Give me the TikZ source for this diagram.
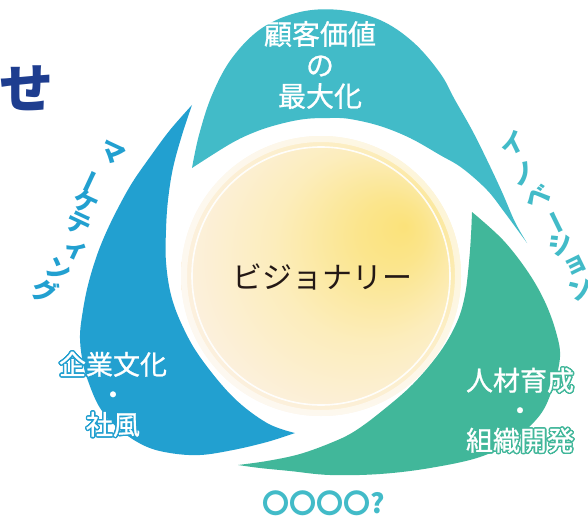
\documentclass[tikz,border=0pt]{standalone}
\usepackage{fontspec}
\newfontfamily\jp{Noto Sans CJK JP}
\newfontfamily\jpm[FakeBold=0.9]{Noto Sans CJK JP}
\usepackage{contour}
\contourlength{1.4pt}
\definecolor{cTeal}{RGB}{66,187,200}
\definecolor{cBlue}{RGB}{34,160,208}
\definecolor{cGreen}{RGB}{65,183,154}
\definecolor{cNavy}{RGB}{30,61,143}
\definecolor{cInk}{RGB}{35,24,21}
\definecolor{yHot}{RGB}{251,226,122}
\definecolor{yWarm}{RGB}{251,229,140}
\definecolor{yMid}{RGB}{252,237,188}
\definecolor{yCream}{RGB}{252,240,220}
\definecolor{yPale}{RGB}{254,247,239}
\pgfdeclareradialshading{visshade}{\pgfpoint{15bp}{9bp}}{color(0bp)=(yHot); color(6bp)=(yWarm); color(17bp)=(yMid); color(28bp)=(yCream); color(40bp)=(yPale)}
\tikzset{
  petaltxt/.style={font=\jpm\fontsize{28}{31}\selectfont, text=white, align=center, inner sep=0pt},
  sidetxt/.style={font=\jpm\fontsize{27}{30}\selectfont, text=white, align=center, inner sep=0pt},
  arcL/.style={font=\jp\bfseries\fontsize{25}{25}\selectfont, text=cBlue, inner sep=0pt, rotate=-25},
  arcR/.style={font=\jp\bfseries\fontsize{25}{25}\selectfont, text=cTeal, inner sep=0pt, rotate=26},
}
\begin{document}
\begin{tikzpicture}[x=1pt,y=-1pt]
\useasboundingbox (0,0) rectangle (588,516);
\fill[white] (0,0) rectangle (588,516);

% top teal petal
\fill[cTeal] plot[smooth,tension=0.6] coordinates {(192,168) (199,135) (212,95) (232,58) (262,28) (300,12) (340,10) (380,20) (413,42) (440,73) (455,100) (472,130) (487,160) (502,192) (515,222) (527,243)}
  -- plot[smooth,tension=0.6] coordinates {(527,243) (505,213) (487,190) (462,168) (440,155) (410,138) (380,126) (350,119) (330,118) (305,119) (280,124) (255,132) (230,144) (192,168)} -- cycle;

% left blue petal
\fill[cBlue] plot[smooth,tension=0.6] coordinates {(192,105) (170,130) (150,157) (132,183) (117,210) (105,235) (96,258) (88,285) (83,310) (80,335) (82,358) (87,378) (100,408) (120,430) (145,446) (170,453) (200,455) (233,450) (267,442) (295,433)}
  -- plot[smooth,tension=0.6] coordinates {(295,433) (267,423) (233,397) (200,357) (182,325) (171,295) (166,262) (166,230) (168,200) (173,168) (182,135) (192,105)} -- cycle;

% right green petal
\fill[cGreen] plot[smooth,tension=0.6] coordinates {(472,212) (503,240) (528,272) (545,302) (556,332) (560,357) (553,387) (540,415) (513,440) (480,457) (430,468) (380,474) (330,475) (290,471) (260,468) (238,465)}
  -- plot[smooth,tension=0.6] coordinates {(238,465) (267,461) (300,454) (333,442) (355,431) (382,411) (413,384) (440,352) (457,322) (465,295) (469,262) (471,235) (472,212)} -- cycle;

% central circle
\coordinate (c) at (321,276);
\shade[shading=visshade] (c) circle (140pt);
\draw[white, line width=6pt, opacity=0.55] (c) circle (137pt);
\draw[white, line width=1.6pt, opacity=0.9] (c) circle (129pt);
\node[font=\jp\fontsize{30}{30}\selectfont, text=cInk, inner sep=0pt] (vis) at (322,277) {ビジョナリー};

% petal texts
\node[petaltxt] (top) at (320,65) {顧客価値\\の\\最大化};
\node[sidetxt] (left) at (113,395) {\contour{cBlue}{企業文化}\\\contour{cBlue}{・}\\\contour{cBlue}{社風}};
\node[sidetxt] (right) at (520,411) {\contour{cGreen}{人材育成}\\\contour{cGreen}{・}\\\contour{cGreen}{組織開発}};

% vertical arc text, left
\node[arcL] (mk0) at (112,153) {マ};
\node[arcL, rotate=-90] (mk1) at (87,180) {ー};
\node[arcL] (mk2) at (86,202) {ケ};
\node[arcL] (mk3) at (79,224) {テ};
\node[arcL] (mk4) at (76,250) {ィ};
\node[arcL] (mk5) at (59,270) {ン};
\node[arcL] (mk6) at (45,291) {グ};

% vertical arc text, right
\node[arcR] (in0) at (512,143) {イ};
\node[arcR] (in1) at (524,174) {ノ};
\node[arcR] (in2) at (538,197) {ベ};
\node[arcR, rotate=-90] (in3) at (553,224) {ー};
\node[arcR] (in4) at (561,244) {シ};
\node[arcR] (in5) at (576,266) {ョ};
\node[arcR] (in6) at (581,289) {ン};

% other texts
\node[font=\jp\bfseries\fontsize{54}{54}\selectfont, text=cNavy, inner sep=0pt] (se) at (26,88) {せ};
\node[font=\jp\bfseries\fontsize{27}{27}\selectfont, text=cTeal, inner sep=0pt] (q) at (324,503) {〇〇〇〇?};
\end{tikzpicture}
\end{document}
